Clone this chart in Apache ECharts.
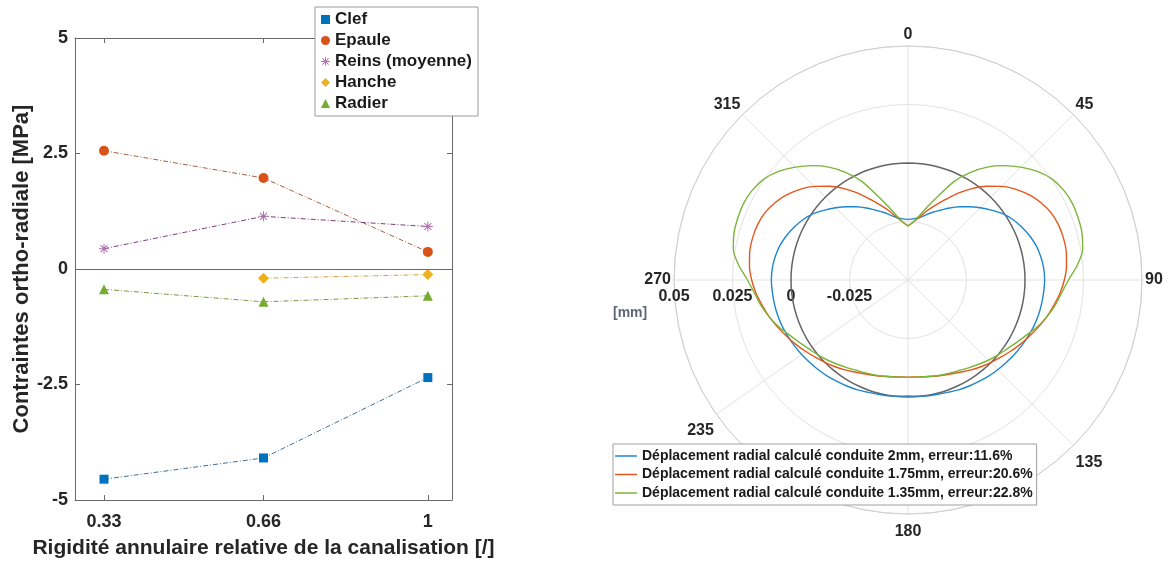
<!DOCTYPE html>
<html>
<head>
<meta charset="utf-8">
<script src="https://cdn.jsdelivr.net/npm/echarts@6/dist/echarts.min.js"></script>
<style>
  html, body { margin: 0; padding: 0; background: #ffffff; }
  #chart { width: 1171px; height: 561px; }
</style>
</head>
<body>
<div id="chart"></div>
<script>
// ---- Left panel: ortho-radial stress vs. relative ring stiffness ----
const stiffness = [0.33, 0.66, 1];
const stiffnessTicks = [0.33, 0.66, 1];
const clef = [-4.55, -4.09, -2.35];
const epaule = [2.56, 1.97, 0.37];
const reins = [0.44, 1.14, 0.92];
const hanche = [null, -0.20, -0.12];
const radier = [-0.44, -0.71, -0.58];

// ---- Right panel: radial displacement around the pipe ----
// compass angles (0 = crown, clockwise), every 5 degrees
const theta = [0, 5, 10, 15, 20, 25, 30, 35, 40, 45, 50, 55, 60, 65, 70, 75, 80, 85, 90,
  95, 100, 105, 110, 115, 120, 125, 130, 135, 140, 145, 150, 155, 160, 165, 170, 175, 180,
  185, 190, 195, 200, 205, 210, 215, 220, 225, 230, 235, 240, 245, 250, 255, 260, 265, 270,
  275, 280, 285, 290, 295, 300, 305, 310, 315, 320, 325, 330, 335, 340, 345, 350, 355, 360];
const thetaTicks = [0, 45, 90, 135, 180, 235, 270, 315];

const disp2mm = [-0.0241, -0.0238, -0.0230, -0.0213, -0.0192, -0.0171, -0.0145, -0.0118, -0.0091, -0.0063, -0.0035, -0.0006, 0.0017, 0.0036, 0.0053, 0.0067, 0.0076, 0.0082, 0.0084,
  0.0082, 0.0080, 0.0077, 0.0073, 0.0067, 0.0061, 0.0055, 0.0048, 0.0042, 0.0036, 0.0029, 0.0023, 0.0017, 0.0010, 0.0005, 0.0002, -0.0002, -0.0004,
  -0.0002, 0.0002, 0.0005, 0.0010, 0.0017, 0.0023, 0.0029, 0.0036, 0.0042, 0.0048, 0.0055, 0.0061, 0.0067, 0.0073, 0.0077, 0.0080, 0.0082, 0.0084,
  0.0082, 0.0076, 0.0067, 0.0053, 0.0036, 0.0017, -0.0006, -0.0035, -0.0063, -0.0091, -0.0118, -0.0145, -0.0171, -0.0192, -0.0213, -0.0230, -0.0238, -0.0241];
const disp175mm = [-0.0269, -0.0252, -0.0229, -0.0196, -0.0161, -0.0120, -0.0071, -0.0023, 0.0023, 0.0066, 0.0103, 0.0134, 0.0158, 0.0176, 0.0185, 0.0188, 0.0187, 0.0180, 0.0168,
  0.0152, 0.0132, 0.0113, 0.0092, 0.0071, 0.0052, 0.0033, 0.0015, -0.0001, -0.0016, -0.0031, -0.0046, -0.0058, -0.0067, -0.0074, -0.0080, -0.0084, -0.0085,
  -0.0084, -0.0080, -0.0074, -0.0067, -0.0058, -0.0046, -0.0031, -0.0016, -0.0001, 0.0015, 0.0033, 0.0052, 0.0071, 0.0092, 0.0113, 0.0132, 0.0152, 0.0168,
  0.0180, 0.0187, 0.0188, 0.0185, 0.0176, 0.0158, 0.0134, 0.0103, 0.0066, 0.0023, -0.0023, -0.0071, -0.0120, -0.0161, -0.0196, -0.0229, -0.0252, -0.0269];
const disp135mm = [-0.0269, -0.0252, -0.0221, -0.0175, -0.0116, -0.0036, 0.0030, 0.0089, 0.0138, 0.0182, 0.0222, 0.0252, 0.0268, 0.0275, 0.0274, 0.0270, 0.0258, 0.0226, 0.0186,
  0.0158, 0.0137, 0.0113, 0.0087, 0.0058, 0.0035, 0.0015, 0.0000, -0.0015, -0.0030, -0.0043, -0.0055, -0.0063, -0.0069, -0.0075, -0.0080, -0.0083, -0.0084,
  -0.0083, -0.0080, -0.0075, -0.0069, -0.0063, -0.0055, -0.0043, -0.0030, -0.0015, 0.0000, 0.0015, 0.0035, 0.0058, 0.0087, 0.0113, 0.0137, 0.0158, 0.0186,
  0.0226, 0.0258, 0.0270, 0.0274, 0.0275, 0.0268, 0.0252, 0.0222, 0.0182, 0.0138, 0.0089, 0.0030, -0.0036, -0.0116, -0.0175, -0.0221, -0.0252, -0.0269];
const dispRef = theta.map(() => 0);

const polarNames = [
  'Déplacement radial calculé conduite 2mm, erreur:11.6%',
  'Déplacement radial calculé conduite 1.75mm, erreur:20.6%',
  'Déplacement radial calculé conduite 1.35mm, erreur:22.8%'
];

const FONT = '"Liberation Sans", Arial, Helvetica, sans-serif';
const INK = '#262626';
const BOX = '#6a6a6a';

// The radius axis is drawn along the angle-axis start; starting that at the left (180)
// puts the radius labels under the 270 spoke. Compass angle <-> axis angle:
const toAxisAngle = t => (t + 90) % 360;
const fromAxisAngle = v => (v + 270) % 360;
const angleTickValues = thetaTicks.map(toAxisAngle).sort((a, b) => a - b);

const asterisk = 'path://M4.5,0L5.5,0L5.5,10L4.5,10ZM0,4.5L10,4.5L10,5.5L0,5.5ZM1.2,1.9L1.9,1.2L8.8,8.1L8.1,8.8ZM8.1,1.2L8.8,1.9L1.9,8.8L1.2,8.1Z';
const dashDot = [5, 2, 1, 2];

function pairs(xs, ys) { return xs.map((x, i) => [x, ys[i] == null ? '-' : ys[i]]); }
function polarPairs(vals) { return theta.map((t, i) => [vals[i], toAxisAngle(t)]); }

const labelStyle = { fontFamily: FONT, fontWeight: 'bold', color: INK };

function boxAxis(extra) {
  return Object.assign({
    axisLine: { show: true, onZero: false, lineStyle: { color: BOX, width: 1 } },
    axisTick: { show: true, inside: true, length: 5, lineStyle: { color: BOX } },
    splitLine: { show: false }
  }, extra);
}

const option = {
  animation: false,
  backgroundColor: '#ffffff',
  textStyle: { fontFamily: FONT },
  grid: { left: 75, right: 719, top: 38, bottom: 61, containLabel: false, outerBoundsMode: 'none' },
  xAxis: [
    boxAxis({
      type: 'value', min: 0.27, max: 1.05, position: 'bottom',
      name: 'Rigidité annulaire relative de la canalisation [/]',
      nameLocation: 'middle', nameGap: 38,
      nameTextStyle: { ...labelStyle, fontSize: 21 },
      axisTick: { show: true, inside: true, length: 5, customValues: stiffnessTicks, lineStyle: { color: BOX } },
      axisLabel: { ...labelStyle, fontSize: 18, margin: 13, customValues: stiffnessTicks }
    }),
    boxAxis({
      type: 'value', min: 0.27, max: 1.05, position: 'top',
      axisTick: { show: true, inside: true, length: 5, customValues: stiffnessTicks, lineStyle: { color: BOX } },
      axisLabel: { show: false }
    })
  ],
  yAxis: [
    boxAxis({
      type: 'value', min: -5, max: 5, interval: 2.5, position: 'left',
      name: 'Contraintes ortho-radiale [MPa]',
      nameLocation: 'middle', nameGap: 41,
      nameTextStyle: { ...labelStyle, fontSize: 22 },
      axisLabel: { ...labelStyle, fontSize: 18, margin: 7 }
    }),
    boxAxis({
      type: 'value', min: -5, max: 5, interval: 2.5, position: 'right',
      axisLabel: { show: false }
    })
  ],
  polar: { center: [908, 280], radius: 234 },
  angleAxis: {
    type: 'value', min: 0, max: 360, startAngle: 180, clockwise: true,
    axisLine: { show: true, lineStyle: { color: '#cdcdcd', width: 1 } },
    axisTick: { show: false, customValues: angleTickValues },
    axisLabel: {
      ...labelStyle, fontSize: 16, margin: 3, padding: [7, 0, 0, 0],
      customValues: angleTickValues,
      formatter: v => String(fromAxisAngle(v))
    },
    splitLine: { show: true, lineStyle: { color: '#e2e2e2', width: 1 } }
  },
  radiusAxis: {
    type: 'value', min: -0.05, max: 0.05, interval: 0.025,
    axisLine: { show: false },
    axisTick: { show: false },
    axisLabel: {
      ...labelStyle, fontSize: 16, margin: 9, showMinLabel: false,
      formatter: v => (Math.abs(v + 0.05) < 1e-9 ? '' : String(Math.round(v * 1000) / 1000))
    },
    splitLine: { show: true, lineStyle: { color: '#e2e2e2', width: 1 } }
  },
  legend: [
    {
      left: 315, top: 7, orient: 'vertical',
      padding: [4, 6, 4, 6], itemGap: 4, itemWidth: 9, itemHeight: 9,
      backgroundColor: '#ffffff', borderColor: '#9a9a9a', borderWidth: 1,
      textStyle: { ...labelStyle, fontSize: 17, color: '#1a1a1a' },
      data: [
        { name: 'Clef', icon: 'rect' },
        { name: 'Epaule', icon: 'circle' },
        { name: 'Reins (moyenne)', icon: asterisk },
        { name: 'Hanche', icon: 'diamond' },
        { name: 'Radier', icon: 'triangle' }
      ]
    },
    {
      left: 613, top: 444, orient: 'vertical',
      padding: [5, 4, 5, 2], itemGap: 4.5, itemWidth: 22, itemHeight: 1.5,
      backgroundColor: '#ffffff', borderColor: '#a0a0a0', borderWidth: 1,
      textStyle: { ...labelStyle, fontSize: 14, color: '#1a1a1a' },
      data: polarNames.map(n => ({ name: n, icon: 'rect' }))
    }
  ],
  graphic: [
    {
      type: 'text', left: 613, top: 306,
      style: { text: '[mm]', font: 'bold 14px ' + FONT, fill: '#5b6678' }
    }
  ],
  series: [
    {
      name: 'Clef', type: 'line', xAxisIndex: 0, yAxisIndex: 0,
      data: pairs(stiffness, clef), symbol: 'rect', symbolSize: 9,
      itemStyle: { color: '#0072BD' },
      lineStyle: { color: '#3f6f95', width: 1, type: dashDot },
      markLine: {
        silent: true, symbol: 'none', label: { show: false },
        lineStyle: { color: BOX, width: 1, type: 'solid' },
        data: [{ yAxis: 0 }]
      },
      z: 3
    },
    {
      name: 'Epaule', type: 'line', data: pairs(stiffness, epaule),
      symbol: 'circle', symbolSize: 10,
      itemStyle: { color: '#D95319' },
      lineStyle: { color: '#a9603f', width: 1, type: dashDot }, z: 3
    },
    {
      name: 'Reins (moyenne)', type: 'line', data: pairs(stiffness, reins),
      symbol: asterisk, symbolSize: 10,
      itemStyle: { color: '#b06fae' },
      lineStyle: { color: '#7c3f78', width: 1, type: dashDot }, z: 3
    },
    {
      name: 'Hanche', type: 'line', data: pairs(stiffness, hanche),
      symbol: 'diamond', symbolSize: 11,
      itemStyle: { color: '#EDB120' },
      lineStyle: { color: '#d3a43e', width: 1, type: dashDot }, z: 3
    },
    {
      name: 'Radier', type: 'line', data: pairs(stiffness, radier),
      symbol: 'triangle', symbolSize: 10,
      itemStyle: { color: '#77AC30' },
      lineStyle: { color: '#7c9845', width: 1, type: dashDot }, z: 3
    },
    {
      name: 'reference', type: 'line', coordinateSystem: 'polar',
      data: polarPairs(dispRef), symbol: 'none', smooth: 0.3,
      lineStyle: { color: '#666666', width: 1.5 }, z: 2
    },
    {
      name: polarNames[0], type: 'line', coordinateSystem: 'polar',
      data: polarPairs(disp2mm), symbol: 'none', smooth: 0.3,
      itemStyle: { color: '#1f86d0' }, lineStyle: { color: '#1f86d0', width: 1.4 }, z: 3
    },
    {
      name: polarNames[1], type: 'line', coordinateSystem: 'polar',
      data: polarPairs(disp175mm), symbol: 'none', smooth: 0.3,
      itemStyle: { color: '#e4571c' }, lineStyle: { color: '#e4571c', width: 1.4 }, z: 3
    },
    {
      name: polarNames[2], type: 'line', coordinateSystem: 'polar',
      data: polarPairs(disp135mm), symbol: 'none', smooth: 0.3,
      itemStyle: { color: '#7bb53a' }, lineStyle: { color: '#7bb53a', width: 1.4 }, z: 3
    }
  ]
};

const chart = echarts.init(document.getElementById('chart'), null, { renderer: 'canvas' });
chart.setOption(option);
</script>
</body>
</html>
